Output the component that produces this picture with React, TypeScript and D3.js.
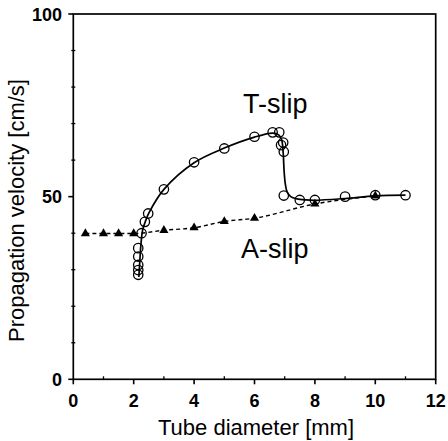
import React from "react";
import * as d3 from "d3";

// T-slip measured points (tube diameter mm, velocity cm/s)
const tSlipX = [2.15, 2.15, 2.15, 2.15, 2.15, 2.26, 2.37, 2.48, 3, 4, 5, 6, 6.6, 6.82, 6.88, 6.95, 6.97, 6.97, 7.5, 8, 9, 10, 11];
const tSlipY = [28.6, 29.9, 31.3, 33.6, 35.9, 40, 43.1, 45.4, 52, 59.4, 63.2, 66.4, 67.6, 67.6, 64.1, 64.8, 62.3, 50.3, 49.1, 49.1, 50, 50.4, 50.4];

// T-slip fitted curve
const tFitX = [2.17, 2.2, 2.24, 2.3, 2.4, 2.5, 3, 4, 5, 6, 6.6, 6.8, 6.9, 6.95, 6.98, 7.02, 7.08, 7.2, 7.4, 7.7, 8, 9, 10, 11];
const tFitY = [28, 32, 37, 41, 43.5, 45.5, 52, 59.3, 63.3, 66.3, 67.4, 66.9, 65.5, 62, 57, 53.5, 51.3, 50.0, 49.4, 49.1, 49.0, 49.5, 50.2, 50.4];

// A-slip measured points
const aSlipX = [0.4, 1, 1.5, 2, 3, 4, 5, 6, 8, 10];
const aSlipY = [39.9, 39.9, 39.9, 39.9, 40.8, 41.5, 43.2, 44.1, 48, 50.2];

const xTicks = [0, 2, 4, 6, 8, 10, 12];
const xMinor = [1, 3, 5, 7, 9, 11];
const yTicks = [0, 50, 100];
const yMinor = [10, 20, 30, 40, 60, 70, 80, 90];

const W = 448, H = 441;
const left = 73.3, right = 435.7, top = 14, bottom = 379.3;
const font = "'Liberation Sans', Arial, Helvetica, sans-serif";

export default function App() {
  const x = d3.scaleLinear().domain([0, 12]).range([left, right]);
  const y = d3.scaleLinear().domain([0, 100]).range([bottom, top]);

  const tFit = tFitX.map((v, i) => [v, tFitY[i]] as [number, number]);
  const aPts = aSlipX.map((v, i) => [v, aSlipY[i]] as [number, number]);

  const tLine = d3.line<[number, number]>().x(d => x(d[0])).y(d => y(d[1])).curve(d3.curveCatmullRom.alpha(0.5));
  const aLine = d3.line<[number, number]>().x(d => x(d[0])).y(d => y(d[1])).curve(d3.curveMonotoneX);
  const tri = d3.symbol().type(d3.symbolTriangle).size(36);

  return (
    <svg width={W} height={H} style={{ position: "absolute", left: 0, top: 0, background: "#fff" }} fontFamily={font}>
      <rect x={0} y={0} width={W} height={H} fill="#fff" />
      {/* dashed A-slip */}
      <path d={aLine(aPts) || ""} fill="none" stroke="#000" strokeWidth={1.4} strokeDasharray="4,3" />
      {aPts.map((p, i) => (
        <path key={"a" + i} d={tri() || ""} transform={`translate(${x(p[0])},${y(p[1])})`} fill="#000" />
      ))}
      {/* T-slip */}
      <path d={tLine(tFit) || ""} fill="none" stroke="#000" strokeWidth={1.7} />
      {tSlipX.map((v, i) => (
        <circle key={"t" + i} cx={x(v)} cy={y(tSlipY[i])} r={4.7} fill="none" stroke="#000" strokeWidth={1.3} />
      ))}
      {/* frame */}
      <rect x={left} y={top} width={right - left} height={bottom - top} fill="none" stroke="#000" strokeWidth={1.7} />
      {/* x ticks */}
      {xTicks.map(t => (
        <g key={"xt" + t}>
          <line x1={x(t)} x2={x(t)} y1={bottom} y2={bottom + 5} stroke="#000" strokeWidth={1.6} />
          <text x={x(t)} y={407} textAnchor="middle" fontSize={18} fontWeight="bold">{t}</text>
        </g>
      ))}
      {xMinor.map(t => (
        <line key={"xm" + t} x1={x(t)} x2={x(t)} y1={bottom} y2={bottom - 3} stroke="#000" strokeWidth={1.3} />
      ))}
      {/* y ticks */}
      {yTicks.map(t => (
        <g key={"yt" + t}>
          <line x1={left - 5} x2={left} y1={y(t)} y2={y(t)} stroke="#000" strokeWidth={1.6} />
          <text x={62} y={y(t) + 6.5} textAnchor="end" fontSize={18} fontWeight="bold">{t}</text>
        </g>
      ))}
      {yMinor.map(t => (
        <line key={"ym" + t} x1={left - 2} x2={left + 2} y1={y(t)} y2={y(t)} stroke="#000" strokeWidth={1.3} />
      ))}
      {/* labels */}
      <text x={243} y={113} fontSize={27}>T-slip</text>
      <text x={241} y={257.5} fontSize={27}>A-slip</text>
      <text x={256} y={435} textAnchor="middle" fontSize={22}>Tube diameter [mm]</text>
      <text transform={`translate(24,210.5) rotate(-90)`} textAnchor="middle" fontSize={22}>Propagation velocity [cm/s]</text>
    </svg>
  );
}
